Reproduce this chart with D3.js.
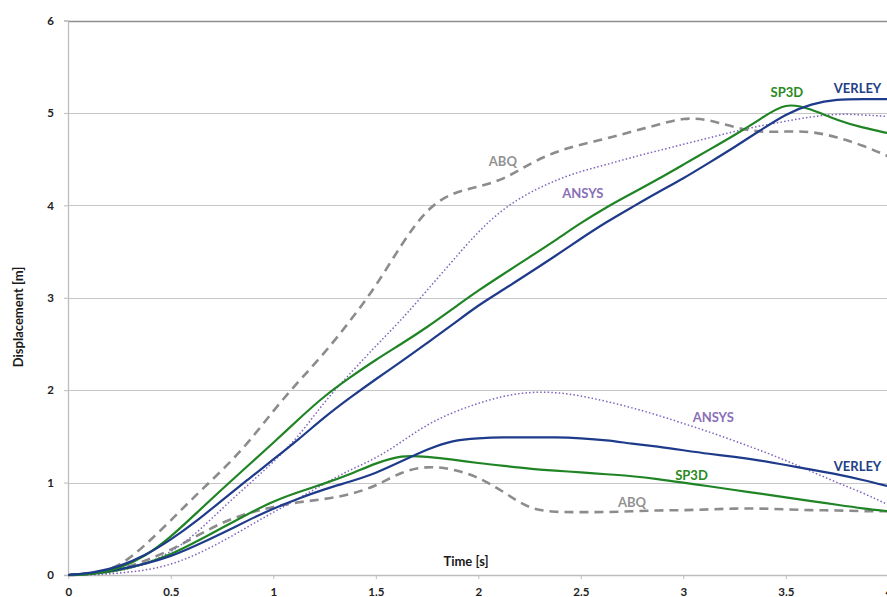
<!DOCTYPE html>
<html>
<head>
<meta charset="utf-8">
<script src="https://cdn.jsdelivr.net/npm/d3@7"></script>
<style>
body { margin: 0; background: #fff; }
svg { display: block; font-family: Lato, "Open Sans", sans-serif; }
</style>
</head>
<body>
<svg id="chart" width="887" height="597"></svg>
<script>
// time axis (s), shared by every curve
var time = [0, 0.125, 0.25, 0.375, 0.5, 0.625, 0.75, 0.875, 1, 1.125, 1.25, 1.375, 1.5, 1.625, 1.75, 1.875,
    2, 2.125, 2.25, 2.375, 2.5, 2.625, 2.75, 2.875, 3, 3.125, 3.25, 3.375, 3.5, 3.625, 3.75, 3.875, 4];

// upper group of curves
var verleyUp = [0, 0.025, 0.09, 0.21, 0.38, 0.58, 0.81, 1.03, 1.25, 1.47, 1.71, 1.92, 2.12, 2.31, 2.51, 2.71,
    2.92, 3.09, 3.27, 3.45, 3.64, 3.82, 3.98, 4.14, 4.29, 4.46, 4.63, 4.81, 4.99, 5.10, 5.15, 5.15, 5.15];
var sp3dUp = [0, 0.01, 0.07, 0.2, 0.41, 0.67, 0.93, 1.18, 1.43, 1.69, 1.94, 2.14, 2.33, 2.50, 2.68, 2.88,
    3.08, 3.26, 3.44, 3.62, 3.81, 3.98, 4.13, 4.28, 4.44, 4.60, 4.76, 4.93, 5.12, 5.04, 4.92, 4.84, 4.78];
var abqUp = [0, 0.01, 0.09, 0.32, 0.59, 0.87, 1.13, 1.42, 1.78, 2.1, 2.40, 2.75, 3.12, 3.58, 3.97, 4.14,
    4.20, 4.28, 4.45, 4.58, 4.66, 4.72, 4.80, 4.87, 4.95, 4.93, 4.84, 4.79, 4.80, 4.80, 4.74, 4.65, 4.53];
var ansysUp = [0, 0, 0.04, 0.12, 0.24, 0.45, 0.72, 0.97, 1.22, 1.50, 1.88, 2.18, 2.48, 2.76, 3.08, 3.40,
    3.72, 3.97, 4.14, 4.27, 4.37, 4.44, 4.52, 4.59, 4.66, 4.73, 4.80, 4.86, 4.91, 4.96, 4.99, 4.98, 4.96];

// lower group of curves
var verleyLow = [0, 0.02, 0.06, 0.12, 0.2, 0.32, 0.45, 0.59, 0.72, 0.83, 0.93, 1.01, 1.10, 1.23, 1.36, 1.46,
    1.48, 1.49, 1.49, 1.49, 1.48, 1.46, 1.42, 1.39, 1.35, 1.31, 1.28, 1.24, 1.19, 1.14, 1.09, 1.03, 0.96];
var sp3dLow = [0, 0.01, 0.05, 0.12, 0.22, 0.36, 0.51, 0.66, 0.80, 0.90, 0.99, 1.09, 1.21, 1.30, 1.28, 1.25,
    1.21, 1.18, 1.15, 1.13, 1.11, 1.09, 1.07, 1.04, 1.00, 0.96, 0.92, 0.88, 0.84, 0.80, 0.76, 0.72, 0.69];
var abqLow = [0, 0.01, 0.06, 0.15, 0.27, 0.42, 0.57, 0.67, 0.74, 0.79, 0.82, 0.87, 0.96, 1.12, 1.18, 1.15,
    1.06, 0.90, 0.71, 0.68, 0.68, 0.68, 0.69, 0.70, 0.70, 0.71, 0.72, 0.72, 0.71, 0.70, 0.70, 0.69, 0.69];
var ansysLow = [0, 0, 0.02, 0.05, 0.11, 0.22, 0.36, 0.52, 0.68, 0.83, 0.99, 1.14, 1.26, 1.44, 1.63, 1.76,
    1.86, 1.94, 1.98, 1.98, 1.94, 1.88, 1.81, 1.73, 1.64, 1.55, 1.45, 1.35, 1.24, 1.12, 1.00, 0.89, 0.76];

var xTicks = [0, 0.5, 1, 1.5, 2, 2.5, 3, 3.5, 4];
var yTicks = [0, 1, 2, 3, 4, 5, 6];

var svg = d3.select("#chart");

var x = d3.scaleLinear().domain([0, 4]).range([68.3, 888.3]);
var y = d3.scaleLinear().domain([0, 6]).range([575, 20.5]);

var styles = {
    verley: { color: "#1e3a8a", width: 2.2, dash: null },
    sp3d: { color: "#1f8424", width: 2.2, dash: null },
    abq: { color: "#8c8c8c", width: 2.6, dash: "9,6" },
    ansys: { color: "#7f62bd", width: 1.5, dash: "1.5,2.2" }
};

// gridlines
svg.append("g")
    .selectAll("line")
    .data(yTicks.filter(function(d) { return d > 0; }))
    .enter().append("line")
    .attr("x1", x(0)).attr("x2", 887)
    .attr("y1", function(d) { return Math.round(y(d)) + 0.5; })
    .attr("y2", function(d) { return Math.round(y(d)) + 0.5; })
    .attr("stroke", function(d) { return d == 6 ? "#8f8f8f" : "#c6c6c6"; })
    .attr("stroke-width", function(d) { return d == 6 ? 1.5 : 1.2; });

// axes
var xAxis = svg.append("g")
    .attr("transform", "translate(0," + Math.round(y(0)) + ")")
    .call(d3.axisBottom(x).tickValues(xTicks).tickSize(4).tickPadding(9).tickFormat(function(d) { return d; }));
var yAxis = svg.append("g")
    .attr("transform", "translate(" + Math.round(x(0)) + ",0)")
    .call(d3.axisLeft(y).tickValues(yTicks).tickSize(4).tickPadding(10).tickFormat(function(d) { return d; }));

[xAxis, yAxis].forEach(function(ax) {
    ax.select(".domain").attr("stroke", "#bdbdbd").attr("stroke-width", 1.3);
    ax.selectAll(".tick line").attr("stroke", "#bdbdbd");
    ax.selectAll(".tick text")
        .attr("fill", "#222")
        .style("font-size", "11.5px")
        .style("font-weight", "bold")
        .style("font-family", "Lato, sans-serif");
});
xAxis.select(".domain").attr("d", "M" + x(0) + ",0.5H887");

// axis titles
svg.append("text")
    .attr("x", 466).attr("y", 566)
    .attr("text-anchor", "middle")
    .attr("fill", "#1a1a1a")
    .style("font-size", "13px").style("font-weight", "bold")
    .text("Time [s]");
svg.append("text")
    .attr("transform", "translate(23,317) rotate(-90)")
    .attr("text-anchor", "middle")
    .attr("fill", "#1a1a1a")
    .style("font-size", "13px").style("font-weight", "bold")
    .text("Displacement [m]");

// curves
var line = d3.line()
    .x(function(d) { return x(d[0]); })
    .y(function(d) { return y(d[1]); })
    .curve(d3.curveBasis);

var series = [
    { key: "abq", values: abqLow },
    { key: "abq", values: abqUp },
    { key: "ansys", values: ansysLow },
    { key: "ansys", values: ansysUp },
    { key: "sp3d", values: sp3dLow },
    { key: "verley", values: verleyLow },
    { key: "sp3d", values: sp3dUp },
    { key: "verley", values: verleyUp }
];

svg.append("g")
    .selectAll("path")
    .data(series)
    .enter().append("path")
    .attr("d", function(d) { return line(d.values.map(function(v, i) { return [time[i], v]; })); })
    .attr("fill", "none")
    .attr("stroke", function(d) { return styles[d.key].color; })
    .attr("stroke-width", function(d) { return styles[d.key].width; })
    .attr("stroke-dasharray", function(d) { return styles[d.key].dash; })
    .attr("stroke-linejoin", "round");

// curve labels
var labels = [
    { text: "ABQ", t: 2.12, v: 4.47, color: "#929292" },
    { text: "ANSYS", t: 2.51, v: 4.13, color: "#8a6fb8" },
    { text: "SP3D", t: 3.505, v: 5.22, color: "#2a8a22" },
    { text: "VERLEY", t: 3.85, v: 5.26, color: "#233f86" },
    { text: "ANSYS", t: 3.146, v: 1.70, color: "#8a6fb8" },
    { text: "VERLEY", t: 3.85, v: 1.17, color: "#233f86" },
    { text: "SP3D", t: 3.04, v: 1.08, color: "#2a8a22" },
    { text: "ABQ", t: 2.75, v: 0.79, color: "#929292" }
];

svg.append("g")
    .selectAll("text")
    .data(labels)
    .enter().append("text")
    .attr("x", function(d) { return x(d.t); })
    .attr("y", function(d) { return y(d.v); })
    .attr("dy", "0.35em")
    .attr("text-anchor", "middle")
    .attr("fill", function(d) { return d.color; })
    .style("font-size", "13px").style("font-weight", "bold")
    .text(function(d) { return d.text; });
</script>
</body>
</html>
